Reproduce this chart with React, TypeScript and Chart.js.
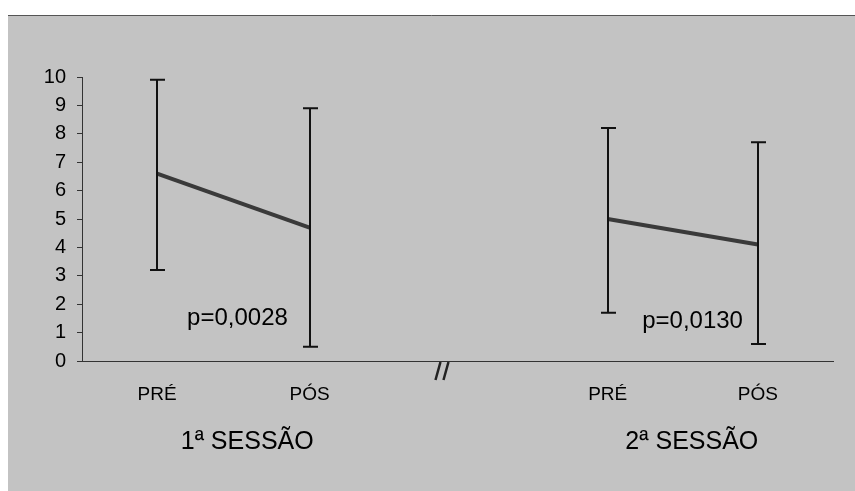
import React, { useEffect, useRef } from "react";
import { Chart, registerables } from "chart.js";

Chart.register(...registerables);

// x positions on a linear axis (session 1: 1,3 ; session 2: 7,9)
const pointX = [1, 3.03, 7, 9];
const tickLabels = ["PRÉ", "PÓS", "PRÉ", "PÓS"];
const session1Means = [6.6, 4.7];
const session2Means = [5.0, 4.1];
const upperValues = [9.9, 8.9, 8.2, 7.7];
const lowerValues = [3.2, 0.5, 1.7, 0.6];
const sessionLabels = ["1ª SESSÃO", "2ª SESSÃO"];
const sessionCenters = [2.2, 8.12];
const pValueLabels = ["p=0,0028", "p=0,0130"];
const pValueX = [2.07, 8.13];
const pValueY = [1.5, 1.4];
const breakX = 4.8;
const yTicks = [0, 1, 2, 3, 4, 5, 6, 7, 8, 9, 10];

const FONT = "'Liberation Sans', Arial, sans-serif";

const decorPlugin = {
  id: "decor",
  beforeDraw(chart: any) {
    const ctx = chart.ctx;
    ctx.save();
    ctx.fillStyle = "#ffffff";
    ctx.fillRect(0, 0, chart.width, chart.height);
    ctx.fillStyle = "#c3c3c3";
    ctx.fillRect(8, 15, chart.width - 8, chart.height - 15);
    ctx.strokeStyle = "#555";
    ctx.lineWidth = 1;
    ctx.beginPath();
    ctx.moveTo(8, 15.5);
    ctx.lineTo(chart.width, 15.5);
    ctx.stroke();
    ctx.restore();
  },
  afterDatasetsDraw(chart: any) {
    const ctx = chart.ctx;
    const xs = chart.scales.x;
    const ys = chart.scales.y;
    ctx.save();
    // error bars
    ctx.strokeStyle = "#111";
    ctx.lineWidth = 2;
    pointX.forEach((v, i) => {
      const px = Math.round(xs.getPixelForValue(v));
      const top = ys.getPixelForValue(upperValues[i]);
      const bot = ys.getPixelForValue(lowerValues[i]);
      ctx.beginPath();
      ctx.moveTo(px, top);
      ctx.lineTo(px, bot);
      ctx.moveTo(px - 7, top);
      ctx.lineTo(px + 8, top);
      ctx.moveTo(px - 7, bot);
      ctx.lineTo(px + 8, bot);
      ctx.stroke();
    });
    // p-values
    ctx.fillStyle = "#000";
    ctx.font = `24px ${FONT}`;
    ctx.textAlign = "center";
    ctx.textBaseline = "middle";
    pValueLabels.forEach((t, i) => {
      ctx.fillText(t, xs.getPixelForValue(pValueX[i]), ys.getPixelForValue(pValueY[i]));
    });
    // session labels
    ctx.font = `25px ${FONT}`;
    sessionLabels.forEach((t, i) => {
      ctx.fillText(t, xs.getPixelForValue(sessionCenters[i]), chart.chartArea.bottom + 81);
    });
    // axis break marks
    const bx = xs.getPixelForValue(breakX);
    const by = chart.chartArea.bottom;
    ctx.lineWidth = 2.5;
    ctx.strokeStyle = "#222";
    ctx.beginPath();
    ctx.moveTo(bx - 2, by + 1);
    ctx.lineTo(bx - 7, by + 19);
    ctx.moveTo(bx + 6, by + 1);
    ctx.lineTo(bx + 1, by + 19);
    ctx.stroke();
    ctx.restore();
  },
};

export default function App() {
  const ref = useRef<HTMLCanvasElement>(null);
  useEffect(() => {
    document.body.style.margin = "0";
    const chart = new Chart(ref.current!, {
      type: "line",
      data: {
        datasets: [
          {
            data: session1Means.map((y, i) => ({ x: pointX[i], y })),
            borderColor: "#3a3a3a",
            borderWidth: 4,
            pointRadius: 0,
          },
          {
            data: session2Means.map((y, i) => ({ x: pointX[i + 2], y })),
            borderColor: "#3a3a3a",
            borderWidth: 4,
            pointRadius: 0,
          },
        ],
      },
      options: {
        animation: false,
        responsive: false,
        layout: { padding: { left: 0, top: 77, right: 22, bottom: 90 } },
        plugins: { legend: { display: false }, tooltip: { enabled: false } },
        scales: {
          x: {
            type: "linear",
            min: 0,
            max: 10,
            afterBuildTicks: (s: any) => {
              s.ticks = pointX.map((v) => ({ value: v }));
            },
            afterFit: (s: any) => {
              s.height = 40;
            },
            ticks: {
              callback: (v: any) => tickLabels[pointX.indexOf(Number(v))] ?? "",
              font: { family: FONT, size: 19 },
              color: "#000",
              padding: 22,
              maxRotation: 0,
              autoSkip: false,
            },
            grid: { display: false, drawTicks: false },
            border: { display: true, color: "#333", width: 1 },
          },
          y: {
            min: 0,
            max: 10,
            afterBuildTicks: (s: any) => {
              s.ticks = yTicks.map((v) => ({ value: v }));
            },
            afterFit: (s: any) => {
              s.width = 82;
            },
            ticks: {
              font: { family: FONT, size: 20 },
              color: "#000",
              padding: 11,
            },
            grid: {
              display: true,
              drawOnChartArea: false,
              drawTicks: true,
              tickLength: 5,
              color: "#333",
            },
            border: { display: true, color: "#333", width: 1 },
          },
        },
      },
      plugins: [decorPlugin],
    } as any);
    return () => chart.destroy();
  }, []);
  return (
    <div style={{ width: 855, height: 491 }}>
      <canvas ref={ref} width={855} height={491} style={{ display: "block" }} />
    </div>
  );
}
